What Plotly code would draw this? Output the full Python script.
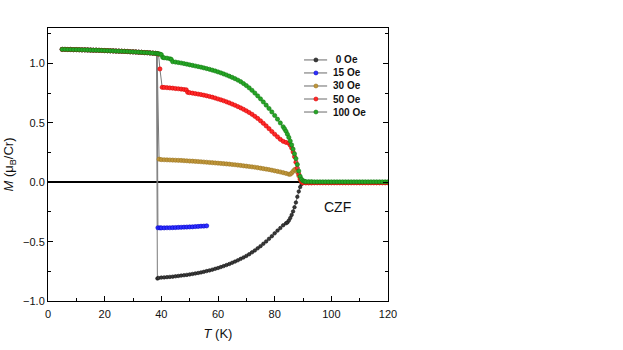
import plotly.graph_objects as go

# shared low temperature part (all fields lie on the same curve below ~38 K)
t_low = [5, 6, 7, 8, 9, 10, 11, 12, 13, 14, 15, 16, 17, 18, 19, 20, 21, 22, 23, 24,
         25, 26, 27, 28, 29, 30, 31, 32, 33, 34, 35, 36, 37, 38]
m_low = [1.120, 1.120, 1.119, 1.119, 1.118, 1.118, 1.117, 1.116, 1.116, 1.115,
         1.114, 1.113, 1.113, 1.112, 1.111, 1.110, 1.109, 1.108, 1.107, 1.106,
         1.105, 1.104, 1.103, 1.102, 1.100, 1.099, 1.098, 1.096, 1.095, 1.093,
         1.092, 1.090, 1.088, 1.086]

# paramagnetic tail above Tc
t_tail = [91, 92, 93, 94, 95, 96, 97, 98, 99, 100, 101, 102, 103, 104, 105,
          106, 107, 108, 109, 110, 111, 112, 113, 114, 115, 116, 117, 118, 119, 120]
m_tail_0 = [-0.003, -0.002, -0.002, -0.002, -0.002, -0.002, -0.002, -0.002, -0.002, -0.002,
            -0.002, -0.002, -0.002, -0.002, -0.002, -0.002, -0.002, -0.002, -0.002, -0.002,
            -0.002, -0.002, -0.002, -0.002, -0.002, -0.002, -0.002, -0.002, -0.002, -0.002]
m_tail_30 = [-0.003, -0.003, -0.003, -0.003, -0.003, -0.003, -0.003, -0.003, -0.003, -0.003,
             -0.003, -0.003, -0.003, -0.003, -0.003, -0.003, -0.003, -0.003, -0.003, -0.003,
             -0.003, -0.003, -0.003, -0.003, -0.003, -0.003, -0.003, -0.003, -0.003, -0.003]
m_tail_50 = [-0.005, -0.005, -0.005, -0.004, -0.004, -0.004, -0.004, -0.004, -0.004, -0.004,
             -0.004, -0.004, -0.004, -0.004, -0.004, -0.004, -0.004, -0.004, -0.004, -0.004,
             -0.004, -0.004, -0.004, -0.004, -0.004, -0.004, -0.004, -0.004, -0.004, -0.004]
m_tail_100 = [0.006, 0.005, 0.005, 0.004, 0.004, 0.004, 0.004, 0.004, 0.004, 0.004,
              0.004, 0.004, 0.004, 0.004, 0.004, 0.004, 0.004, 0.004, 0.004, 0.004,
              0.004, 0.004, 0.004, 0.004, 0.004, 0.004, 0.004, 0.004, 0.004, 0.004]

# 0 Oe
t_0 = [38.3, 38.6, 39, 40, 41, 42, 43, 44, 45, 46, 47, 48, 49, 50, 51, 52, 53, 54, 55,
       56, 57, 58, 59, 60, 61, 62, 63, 64, 65, 66, 67, 68, 69, 70, 71, 72, 73, 74, 75,
       76, 77, 78, 79, 80, 81, 82, 83, 84, 84.5, 85, 85.5, 86, 86.5, 87, 87.5, 88,
       88.5, 89, 89.5, 90]
m_0 = [1.085, -0.810, -0.806, -0.803, -0.801, -0.799, -0.797, -0.795, -0.792, -0.789,
       -0.786, -0.783, -0.780, -0.776, -0.772, -0.768, -0.764, -0.759, -0.754, -0.748,
       -0.742, -0.736, -0.729, -0.722, -0.714, -0.706, -0.697, -0.688, -0.678, -0.668,
       -0.657, -0.645, -0.633, -0.620, -0.606, -0.590, -0.574, -0.556, -0.538, -0.518,
       -0.498, -0.476, -0.454, -0.430, -0.407, -0.385, -0.362, -0.345, -0.338, -0.322,
       -0.300, -0.275, -0.245, -0.210, -0.170, -0.122, -0.077, -0.040, -0.015, -0.005]

# 15 Oe
t_15 = [38.5, 38.8, 39.5, 40, 41, 42, 43, 44, 45, 46, 47, 48, 49, 50, 51, 52, 53, 54, 55, 56]
m_15 = [1.084, -0.383, -0.384, -0.384, -0.384, -0.383, -0.383, -0.382, -0.381, -0.380,
        -0.379, -0.378, -0.377, -0.376, -0.375, -0.373, -0.372, -0.370, -0.369, -0.367]

# 30 Oe
t_30 = [38.5, 39.2, 40, 41, 42, 43, 44, 45, 46, 47, 48, 49, 50, 51, 52, 53, 54, 55, 56,
        57, 58, 59, 60, 61, 62, 63, 64, 65, 66, 67, 68, 69, 70, 71, 72, 73, 74, 75, 76,
        77, 78, 79, 80, 81, 82, 83, 84, 85, 85.5, 86, 86.5, 87, 87.5, 88, 88.5, 89,
        89.5, 90]
m_30 = [1.084, 0.195, 0.191, 0.190, 0.189, 0.188, 0.187, 0.186, 0.185, 0.184,
        0.182, 0.181, 0.179, 0.178, 0.176, 0.175, 0.173, 0.171, 0.169, 0.167,
        0.165, 0.163, 0.161, 0.159, 0.157, 0.155, 0.153, 0.150, 0.148, 0.145,
        0.142, 0.139, 0.136, 0.133, 0.130, 0.127, 0.123, 0.119, 0.115, 0.111,
        0.107, 0.102, 0.097, 0.092, 0.087, 0.081, 0.075, 0.068, 0.068, 0.078,
        0.092, 0.106, 0.110, 0.088, 0.055, 0.022, 0.004, -0.003]

# 50 Oe
t_50 = [38.5, 39, 39.5, 40.3, 41, 42, 43, 44, 45, 46, 47, 48, 48.8, 49.3, 50, 51, 52,
        53, 54, 55, 56, 57, 58, 59, 60, 61, 62, 63, 64, 65, 66, 67, 68, 69, 70, 71, 72,
        73, 74, 75, 76, 77, 78, 79, 80, 81, 82, 83, 84, 85, 85.5, 86, 86.5, 87, 87.5,
        88, 88.5, 89, 89.5, 90]
m_50 = [1.084, 1.080, 0.955, 0.800, 0.799, 0.797, 0.795, 0.793, 0.790, 0.788,
        0.785, 0.782, 0.779, 0.758, 0.755, 0.751, 0.747, 0.743, 0.739, 0.734,
        0.729, 0.723, 0.717, 0.710, 0.702, 0.695, 0.687, 0.678, 0.669, 0.659,
        0.649, 0.638, 0.627, 0.615, 0.602, 0.588, 0.573, 0.556, 0.538, 0.518,
        0.497, 0.475, 0.452, 0.428, 0.405, 0.383, 0.362, 0.345, 0.336, 0.328,
        0.312, 0.288, 0.256, 0.216, 0.170, 0.120, 0.070, 0.030, 0.006, -0.004]

# 100 Oe
t_100 = [38.5, 39, 39.5, 40, 40.5, 41, 42, 43, 43.5, 44, 45, 46, 47, 48, 49, 50, 51,
         52, 53, 54, 55, 56, 57, 58, 59, 60, 61, 62, 63, 64, 65, 66, 67, 68, 69, 70, 71,
         72, 73, 74, 75, 76, 77, 78, 79, 80, 81, 82, 83, 83.5, 84, 84.5, 85, 85.5, 86,
         86.5, 87, 87.5, 88, 88.5, 89, 89.5, 90, 90.5]
m_100 = [1.085, 1.083, 1.080, 1.076, 1.052, 1.049, 1.046, 1.041, 1.036, 1.016,
         1.013, 1.009, 1.005, 1.000, 0.995, 0.990, 0.985, 0.980, 0.975, 0.970,
         0.964, 0.958, 0.952, 0.945, 0.938, 0.930, 0.922, 0.913, 0.904, 0.894,
         0.884, 0.873, 0.861, 0.848, 0.832, 0.815, 0.796, 0.775, 0.752, 0.728,
         0.703, 0.677, 0.650, 0.622, 0.593, 0.563, 0.532, 0.500, 0.468, 0.450,
         0.430, 0.405, 0.378, 0.348, 0.315, 0.280, 0.240, 0.200, 0.150, 0.095,
         0.050, 0.025, 0.013, 0.008]

names = ["0 Oe", "15 Oe", "30 Oe", "50 Oe", "100 Oe"]
fills = ["#3a3a3a", "#2f2fff", "#bf963a", "#ff2a2a", "#26a626"]
edges = ["#111111", "#0000c8", "#9a7420", "#d80000", "#117a11"]
sizes = [3.5, 4.2, 4.2, 4.2, 4.2]

series = [
    (t_low + t_0 + t_tail, m_low + m_0 + m_tail_0),
    (t_low + t_15, m_low + m_15),
    (t_low + t_30 + t_tail, m_low + m_30 + m_tail_30),
    (t_low + t_50 + t_tail, m_low + m_50 + m_tail_50),
    (t_low + t_100 + t_tail, m_low + m_100 + m_tail_100),
]

fig = go.Figure()
for (tx, my), name, fc, ec, sz in zip(series, names, fills, edges, sizes):
    assert len(tx) == len(my), name
    fig.add_trace(go.Scatter(
        x=tx, y=my, name=name, mode="lines+markers",
        line=dict(color="#7a7a7a", width=1),
        marker=dict(symbol="circle", size=sz, color=fc, line=dict(color=ec, width=0.6)),
        showlegend=False,
    ))

# hand-made legend, tighter than plotly's own
shapes = []
annotations = []
px_w, px_h = 340.0, 273.0
lx0, lx1, ldot, ltext = 0.753, 0.821, 0.788, 0.832
ly_top, ly_step = 0.883, 0.0477
for i, (name, fc, ec) in enumerate(zip(names, fills, edges)):
    yy = ly_top - i * ly_step
    shapes.append(dict(type="line", xref="paper", yref="paper", x0=lx0, x1=lx1, y0=yy, y1=yy,
                       line=dict(color="#6a6a6a", width=1)))
    shapes.append(dict(type="circle", xref="paper", yref="paper",
                       x0=ldot - 2.0 / px_w, x1=ldot + 2.0 / px_w,
                       y0=yy - 2.0 / px_h, y1=yy + 2.0 / px_h,
                       fillcolor=fc, line=dict(color=ec, width=0.6)))
    label = ("\u00a0" + name) if name == "0 Oe" else name
    annotations.append(dict(x=ltext, y=yy, xref="paper", yref="paper", text="<b>%s</b>" % label,
                            showarrow=False, xanchor="left", yanchor="middle",
                            font=dict(family="Arial", size=10, color="#111111")))

annotations.append(dict(x=102, y=-0.21, xref="x", yref="y", text="CZF", showarrow=False,
                        xanchor="center", yanchor="middle",
                        font=dict(family="Arial", size=14, color="#111111")))

fig.update_layout(
    width=623, height=350,
    margin=dict(l=48, r=235, t=28, b=49),
    paper_bgcolor="white", plot_bgcolor="white",
    font=dict(family="Arial", size=11, color="#111111"),
    shapes=shapes, annotations=annotations,
    showlegend=False,
)
fig.update_xaxes(
    range=[0, 120], tickvals=[0, 20, 40, 60, 80, 100, 120],
    ticks="inside", ticklen=5, tickwidth=1, tickcolor="black",
    minor=dict(dtick=10, ticks="inside", ticklen=3, tickcolor="black"),
    showline=True, linecolor="black", linewidth=1, mirror=True,
    showgrid=False, zeroline=False, automargin=False, ticklabelstandoff=3,
    title=dict(text="<i>T</i> (K)", font=dict(family="Arial", size=13), standoff=9),
    tickfont=dict(family="Arial", size=11),
)
fig.update_yaxes(
    range=[-1.0, 1.3], tickvals=[-1.0, -0.5, 0.0, 0.5, 1.0], tickformat=".1f",
    ticks="inside", ticklen=5, tickwidth=1, tickcolor="black",
    minor=dict(dtick=0.25, ticks="inside", ticklen=3, tickcolor="black"),
    showline=True, linecolor="black", linewidth=1, mirror="ticks",
    showgrid=False, zeroline=True, zerolinecolor="black", zerolinewidth=1.5,
    automargin=False,
    title=dict(text="<i>M</i> (\u03bc<sub>B</sub>/Cr)", font=dict(family="Arial", size=13), standoff=6),
    tickfont=dict(family="Arial", size=11),
)

# page body has a default margin; drop it so the figure sits at the window corner
fig.write_html("out.html", config={"displayModeBar": False},
               post_script="document.body.style.margin='0px';")
